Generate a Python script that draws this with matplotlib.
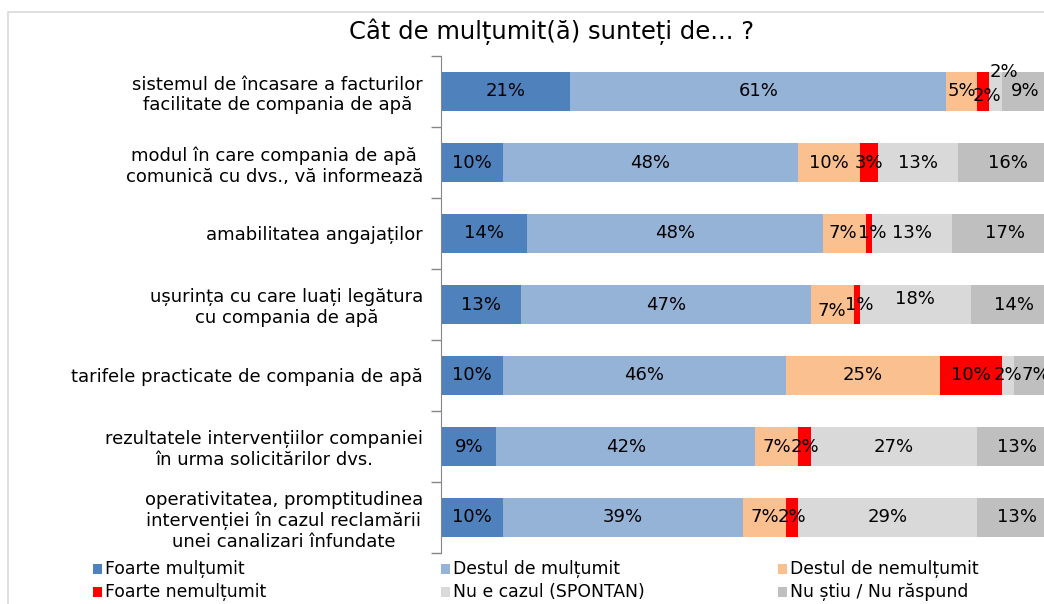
import matplotlib
matplotlib.use("Agg")
import matplotlib.pyplot as plt
from matplotlib.patches import Rectangle
import numpy as np

plt.rcParams['font.family'] = ['DejaVu Sans']

categories = [
    "sistemul de încasare a facturilor\nfacilitate de compania de apă",
    "modul în care compania de apă\ncomunică cu dvs., vă informează",
    "amabilitatea angajaților",
    "ușurința cu care luați legătura\ncu compania de apă",
    "tarifele practicate de compania de apă",
    "rezultatele intervențiilor companiei\nîn urma solicitărilor dvs.",
    "operativitatea, promptitudinea\nintervenției în cazul reclamării\nunei canalizari înfundate",
]
series_names = ["Foarte mulțumit", "Destul de mulțumit", "Destul de nemulțumit",
                "Foarte nemulțumit", "Nu e cazul (SPONTAN)", "Nu știu / Nu răspund"]
foarte_multumit = [21, 10, 14, 13, 10, 9, 10]
destul_multumit = [61, 48, 48, 47, 46, 42, 39]
destul_nemultumit = [5, 10, 7, 7, 25, 7, 7]
foarte_nemultumit = [2, 3, 1, 1, 10, 2, 2]
nu_e_cazul = [2, 13, 13, 18, 2, 27, 29]
nu_stiu = [9, 16, 17, 14, 7, 13, 13]
colors = ["#4F81BD", "#95B3D7", "#FAC090", "#FF0000", "#D9D9D9", "#BFBFBF"]

series = [foarte_multumit, destul_multumit, destul_nemultumit,
          foarte_nemultumit, nu_e_cazul, nu_stiu]

# label offsets (points) for crowded labels: (row, series) -> (dx, dy)
offsets = {(0, 3): (3, -3), (0, 4): (6, 14), (0, 5): (-3, 0),
           (2, 2): (-1, 0), (2, 3): (2, 0),
           (3, 2): (0, -5), (3, 3): (2, 0), (3, 4): (0, 4)}

W, H = 1044, 604
fig = plt.figure(figsize=(W / 100, H / 100), dpi=100)
ax = fig.add_axes([441 / W, 51 / H, (1057 - 441) / W, (553 - 56) / H])

y = np.arange(len(categories))
left = np.zeros(len(categories))
for si, (vals, c) in enumerate(zip(series, colors)):
    vals = np.array(vals, dtype=float)
    ax.barh(y, vals, left=left, height=0.54, color=c, edgecolor='none')
    for ri, v in enumerate(vals):
        dx, dy = offsets.get((ri, si), (0, 0))
        ax.annotate(f"{int(v)}%", (left[ri] + v / 2, y[ri]), xytext=(dx, dy),
                    textcoords='offset points', ha='center', va='center',
                    fontsize=13, color='black')
    left += vals

ax.set_xlim(0, 100)
ax.set_ylim(len(categories) - 0.5, -0.5)
ax.set_xticks([])
ax.set_yticks(y)
ax.set_yticklabels(categories, fontsize=13, ha='right', multialignment='center')
ax.tick_params(axis='y', which='major', length=0, pad=13)
ax.set_yticks(np.arange(-0.5, len(categories)), minor=True)
ax.tick_params(axis='y', which='minor', length=7, color='#868686', width=1)
for s in ['top', 'right', 'bottom']:
    ax.spines[s].set_visible(False)
ax.spines['left'].set_color('#868686')

fig.text(552 / W, 1 - 32 / H, "Cât de mulțumit(ă) sunteți de... ?", ha='center',
         va='center', fontsize=17.5)

# legend
leg_x = [93, 441, 778]
leg_y = [569, 592]
for i, (name, c) in enumerate(zip(series_names, colors)):
    col, row = i % 3, i // 3
    fx, fy = leg_x[col] / W, 1 - leg_y[row] / H
    fig.add_artist(Rectangle((fx, fy - 5 / H), 9 / W, 10 / H, transform=fig.transFigure,
                             color=c, lw=0))
    fig.text(fx + 12 / W, fy, name, ha='left', va='center', fontsize=12.4)

fig.add_artist(Rectangle((8 / W, -0.1), 1.2, 1 - 12 / H + 0.1, transform=fig.transFigure,
                         fill=False, edgecolor='#D9D9D9', lw=1.2))

fig.savefig("out.png", dpi=100)
